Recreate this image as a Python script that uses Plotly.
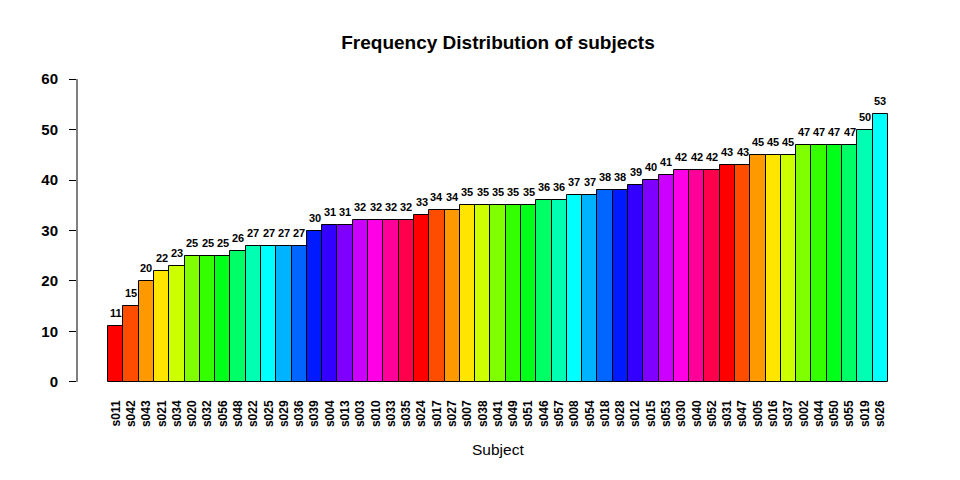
import plotly.graph_objects as go

subjects = ["s011", "s042", "s043", "s021", "s034", "s020", "s032", "s056", "s048", "s022",
            "s025", "s029", "s036", "s039", "s004", "s013", "s003", "s010", "s033", "s035",
            "s024", "s017", "s027", "s007", "s038", "s041", "s049", "s051", "s046", "s057",
            "s008", "s054", "s018", "s028", "s012", "s015", "s053", "s030", "s040", "s052",
            "s031", "s047", "s005", "s016", "s037", "s002", "s044", "s050", "s055", "s019",
            "s026"]
counts = [11, 15, 20, 22, 23, 25, 25, 25, 26, 27,
          27, 27, 27, 30, 31, 31, 32, 32, 32, 32,
          33, 34, 34, 35, 35, 35, 35, 35, 36, 36,
          37, 37, 38, 38, 39, 40, 41, 42, 42, 42,
          43, 43, 45, 45, 45, 47, 47, 47, 47, 50,
          53]
y_ticks = [0, 10, 20, 30, 40, 50, 60]

# R rainbow(20) palette, recycled
palette = ["#FF0000", "#FF4D00", "#FF9900", "#FFE500", "#CCFF00", "#80FF00", "#33FF00",
           "#00FF19", "#00FF66", "#00FFB2", "#00FFFF", "#00B3FF", "#0066FF", "#001AFF",
           "#3300FF", "#7F00FF", "#CC00FF", "#FF00E6", "#FF0099", "#FF004D"]
colors = [palette[i % len(palette)] for i in range(len(subjects))]

FONT = "Liberation Sans, Arial, Helvetica, sans-serif"

# page body has an 8px margin: figure is sized/offset to compensate
W, H = 952, 472

fig = go.Figure()
fig.add_trace(go.Bar(
    x=subjects, y=counts,
    marker=dict(color=colors, line=dict(color="black", width=1)),
    width=1.0,
    hoverinfo="x+y",
))

annotations = []
for s, c in zip(subjects, counts):
    annotations.append(dict(
        x=s, y=c, xref="x", yref="y", text=str(c), showarrow=False,
        yanchor="bottom", yshift=5,
        font=dict(family=FONT, size=11, color="black", weight="bold"),
    ))
annotations.append(dict(
    x=0.5, y=-0.171, xref="paper", yref="paper", text="Subject", showarrow=False,
    yanchor="middle", xanchor="center",
    font=dict(family=FONT, size=15.5, color="black"),
))

fig.update_layout(
    width=W, height=H,
    margin=dict(l=69, r=41, t=59, b=86),
    paper_bgcolor="white", plot_bgcolor="white",
    bargap=0,
    showlegend=False,
    title=dict(
        text="Frequency Distribution of subjects",
        x=0.5, xref="paper", y=1 - 34 / H, yref="container", yanchor="middle",
        font=dict(family=FONT, size=19, color="black", weight="bold"),
    ),
    xaxis=dict(
        type="category",
        range=[-2.54, len(subjects) - 1 + 2.54],
        tickangle=-90,
        ticks="",
        showline=False, showgrid=False, zeroline=False,
        tickfont=dict(family=FONT, size=12, color="black", weight="bold"),
        ticklabelstandoff=3,
    ),
    yaxis=dict(
        range=[-2.4, 62.4],
        tickvals=y_ticks,
        ticks="outside", ticklen=7, tickcolor="black", tickwidth=1,
        showline=False, showgrid=False, zeroline=False,
        tickfont=dict(family=FONT, size=15, color="black", weight="bold"),
        ticklabelstandoff=8,
    ),
    annotations=annotations,
    shapes=[dict(type="line", xref="paper", yref="y", x0=0, x1=0,
                 y0=y_ticks[0], y1=y_ticks[-1], line=dict(color="black", width=1))],
)

fig.write_html("out.html")
